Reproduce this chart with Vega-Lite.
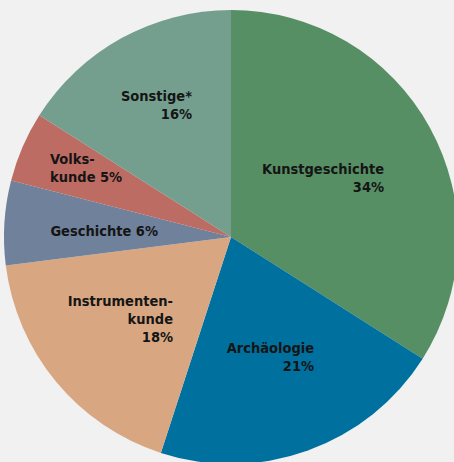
{
  "$schema": "https://vega.github.io/schema/vega-lite/v6.json",
  "width": 446,
  "height": 450,
  "autosize": {"type": "none"},
  "padding": {"left": 8, "top": 12, "right": 0, "bottom": 0},
  "background": "#f1f1f1",
  "config": {"view": {"stroke": null}, "text": {"font": "DejaVu Sans Condensed", "fontSize": 14.5, "fontWeight": "bold", "color": "#151515", "lineBreak": "\n", "lineHeight": 18, "baseline": "middle"}},
  "data": {
    "values": [
      {"nr": 1, "name": "Kunstgeschichte", "value": 34, "label": "Kunstgeschichte\n34%"},
      {"nr": 2, "name": "Archäologie", "value": 21, "label": "Archäologie\n21%"},
      {"nr": 3, "name": "Instrumentenkunde", "value": 18, "label": "Instrumenten-\nkunde\n18%"},
      {"nr": 4, "name": "Geschichte", "value": 6, "label": "Geschichte 6%"},
      {"nr": 5, "name": "Volkskunde", "value": 5, "label": "Volks-\nkunde 5%"},
      {"nr": 6, "name": "Sonstige", "value": 16, "label": "Sonstige*\n16%"}
    ]
  },
  "encoding": {
    "theta": {"field": "value", "type": "quantitative", "stack": true},
    "order": {"field": "nr", "type": "quantitative"}
  },
  "layer": [
    {
      "mark": {"type": "arc", "radius": 227},
      "encoding": {
        "color": {
          "field": "name", "type": "nominal", "legend": null,
          "scale": {
            "domain": ["Kunstgeschichte", "Archäologie", "Instrumentenkunde", "Geschichte", "Volkskunde", "Sonstige"],
            "range": ["#568f64", "#00709f", "#d8a782", "#6f819b", "#bd6c64", "#749f8f"]
          }
        }
      }
    },
    {
      "mark": {"type": "text", "radius": 150, "dx": 21.6, "dy": 5.3, "align": "right"},
      "encoding": {"text": {"condition": {"test": "datum.name === 'Kunstgeschichte'", "field": "label"}, "value": ""}}
    },
    {
      "mark": {"type": "text", "radius": 130, "dx": 39, "dy": -10.8, "align": "right"},
      "encoding": {"text": {"condition": {"test": "datum.name === 'Archäologie'", "field": "label"}, "value": ""}}
    },
    {
      "mark": {"type": "text", "radius": 110, "dx": 26.8, "dy": -5.6, "align": "right"},
      "encoding": {"text": {"condition": {"test": "datum.name === 'Instrumentenkunde'", "field": "label"}, "value": ""}}
    },
    {
      "mark": {"type": "text", "radius": 100, "dx": 26.8, "dy": 1.3, "align": "right"},
      "encoding": {"text": {"condition": {"test": "datum.name === 'Geschichte'", "field": "label"}, "value": ""}}
    },
    {
      "mark": {"type": "text", "radius": 150, "dx": -43.3, "dy": -17.9, "align": "left"},
      "encoding": {"text": {"condition": {"test": "datum.name === 'Volkskunde'", "field": "label"}, "value": ""}}
    },
    {
      "mark": {"type": "text", "radius": 140, "dx": 28.5, "dy": -17.8, "align": "right"},
      "encoding": {"text": {"condition": {"test": "datum.name === 'Sonstige'", "field": "label"}, "value": ""}}
    }
  ]
}
